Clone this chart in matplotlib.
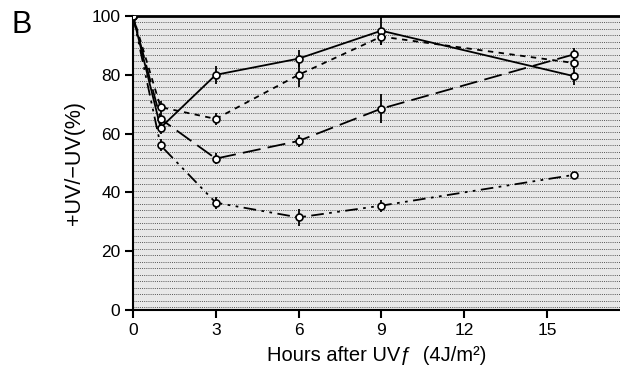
import numpy as np
import matplotlib
matplotlib.use('Agg')
import matplotlib.pyplot as plt

plt.rcParams['font.family'] = ['Liberation Sans', 'DejaVu Sans']

hours = [0, 1, 3, 6, 9, 16]

solid_vals = [100, 62, 80, 85.5, 95, 79.5]
solid_err = [0, 2, 3, 3, 5, 3]
short_vals = [100, 69, 65, 80, 93, 84]
short_err = [0, 2, 2, 4, 3, 2]
long_vals = [100, 65, 51.5, 57.5, 68.5, 87]
long_err = [0, 2, 2, 2, 5, 2]
dashdot_vals = [100, 56, 36.5, 31.5, 35.5, 46]
dashdot_err = [0, 2, 2, 3, 2, 1]

fig = plt.figure(figsize=(6.2, 3.75), dpi=100)
ax = fig.add_axes([0.2145, 0.1733, 0.7855, 0.784])

# hatched grey background
ax.set_facecolor('#e8e8e8')
for yy in np.arange(1.0, 100, 2.2):
    ax.axhline(yy, color='#555555', lw=0.7, linestyle=(0, (1, 1.2)), zorder=0)

series = [
    (solid_vals, solid_err, '-'),
    (short_vals, short_err, (0, (3, 3))),
    (long_vals, long_err, (0, (10, 4))),
    (dashdot_vals, dashdot_err, (0, (7, 3, 1.5, 3, 1.5, 3))),
]
for vals, err, ls in series:
    ax.errorbar(hours, vals, yerr=err, color='black', lw=1.3, linestyle=ls,
                marker='o', ms=5, mfc='white', mec='black', mew=1.2,
                elinewidth=1.3, capsize=0, zorder=3)

ax.set_xlim(0, 17.65)
ax.set_ylim(0, 100)
ax.set_xticks([0, 3, 6, 9, 12, 15])
ax.set_yticks([0, 20, 40, 60, 80, 100])
ax.tick_params(direction='out', length=6, width=1.5, labelsize=12.5, pad=3)
for side in ['left', 'bottom']:
    ax.spines[side].set_linewidth(1.5)
ax.spines['top'].set_linewidth(2)
ax.spines['right'].set_visible(False)

ax.set_xlabel('Hours after UVƒ  (4J/m²)', fontsize=14.5, labelpad=6)
ax.set_ylabel('+UV/\u2212UV(%)', fontsize=15.5, labelpad=5)
fig.text(0.018, 0.912, 'B', fontsize=22)

fig.savefig('out.png', dpi=100)
